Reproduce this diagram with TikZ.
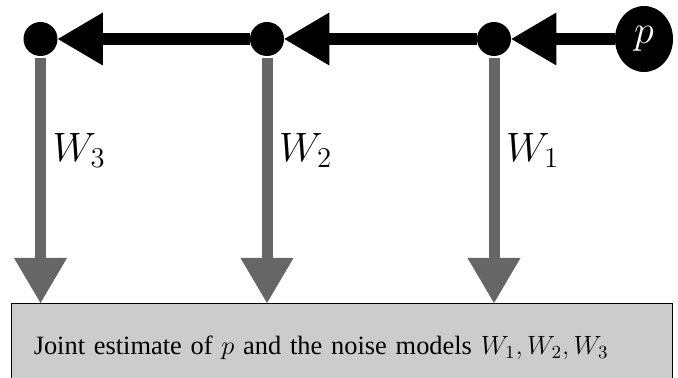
\documentclass[tikz,border=0pt]{standalone}
\usepackage{fix-cm}
\usepackage{fontspec}
\setmainfont{Liberation Serif}
\usetikzlibrary{arrows.meta, positioning, shapes.geometric}
\definecolor{wGrey}{HTML}{666666}
\definecolor{boxGrey}{HTML}{CCCCCC}

\begin{document}
\begin{tikzpicture}[
  x=0.5pt, y=-0.5pt,
  dot/.style={circle, fill=black, minimum size=17pt, inner sep=0pt},
  src/.style={ellipse, fill=black, text=white, minimum width=29pt,
              minimum height=33pt, inner sep=0pt, font=\fontsize{20}{24}\selectfont},
  est/.style={draw=black, fill=boxGrey, line width=0.5pt, anchor=north west,
              minimum width=330.75pt, minimum height=44pt, text width=308pt,
              inner xsep=11pt, align=left, font=\fontsize{13.2}{15}\selectfont},
  fwd/.style={line width=6pt, -{Triangle[length=22.5pt, width=26.5pt, line width=0pt]}},
  obs/.style={draw=wGrey, line width=5.5pt, shorten <=1pt,
              -{Triangle[length=22.5pt, width=26.5pt, line width=0pt]}},
  wlab/.style={right, pos=0.38, text=black, font=\fontsize{20.5}{24}\selectfont}
]
\clip (0,0) rectangle (678,378);

\node[dot] (d1) at (40.5,39) {};
\node[dot] (d2) at (267,39) {};
\node[dot] (d3) at (494,39) {};
\node[src] (p) at (644,39) {$p$};

\node[est] (est) at (10.5,303) {Joint estimate of $p$ and the noise models $W_1, W_2, W_3$};

\draw[fwd] (p) -- (d3);
\draw[fwd] (d3) -- (d2);
\draw[fwd] (d2) -- (d1);

\draw[obs] (d1) -- node[wlab] {$W_3$} (d1 |- est.north);
\draw[obs] (d2) -- node[wlab] {$W_2$} (d2 |- est.north);
\draw[obs] (d3) -- node[wlab] {$W_1$} (d3 |- est.north);
\end{tikzpicture}
\end{document}
